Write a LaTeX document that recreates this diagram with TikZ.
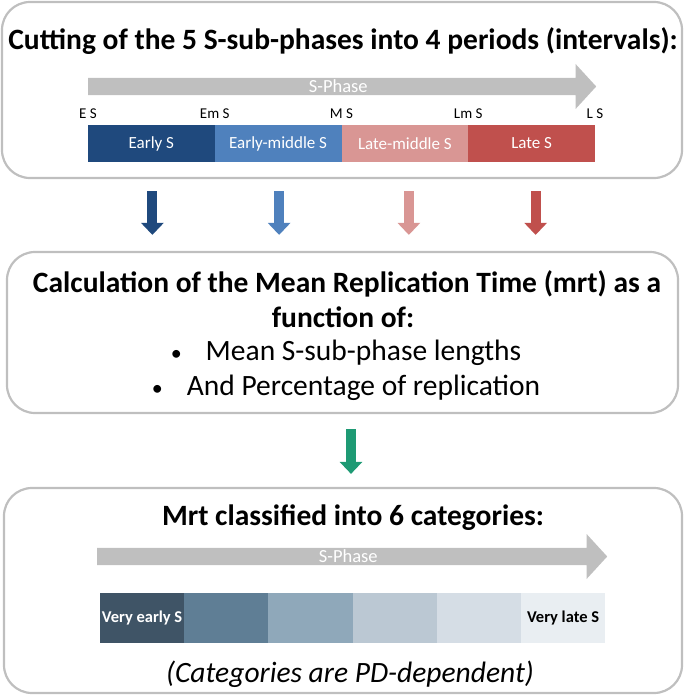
\documentclass[tikz,border=0pt]{standalone}
\usepackage{fontspec}
\setmainfont{Carlito}
\usetikzlibrary{arrows.meta,positioning,shapes.arrows}
\definecolor{panelgray}{HTML}{BFBFBF}
\definecolor{phasegray}{HTML}{BFBFBF}
\definecolor{earlyS}{HTML}{1F497D}
\definecolor{emidS}{HTML}{4F81BD}
\definecolor{lmidS}{HTML}{D99694}
\definecolor{lateS}{HTML}{C0504D}
\definecolor{mrtgreen}{HTML}{1E9A74}
\definecolor{catA}{HTML}{3F5466}
\definecolor{catB}{HTML}{5F7E95}
\definecolor{catC}{HTML}{8FA8BA}
\definecolor{catD}{HTML}{BBC8D3}
\definecolor{catE}{HTML}{D5DDE5}
\definecolor{catF}{HTML}{E9EEF2}
\tikzset{
    panel/.style={draw=panelgray,line width=2.2pt,rounded corners=28pt,inner sep=0pt},
    heading/.style={font=\bfseries\fontsize{29.5}{35}\selectfont,anchor=base,inner sep=0pt},
    bodytext/.style={font=\fontsize{29.5}{35}\selectfont,anchor=base,inner sep=0pt},
    phase/.style={single arrow,fill=phasegray,inner sep=0pt,single arrow head extend=11pt,
        single arrow tip angle=95,minimum width=45pt,anchor=tail,text=white,
        font=\fontsize{18.5}{22}\selectfont},
    tick/.style={font=\fontsize{15}{18}\selectfont,inner sep=0pt},
    seg/.style={minimum width=126.75pt,minimum height=37pt,inner sep=0pt,outer sep=0pt,
        text=white,font=\fontsize{17}{20}\selectfont},
    cat/.style={minimum width=84.2pt,minimum height=50pt,inner sep=0pt,outer sep=0pt,
        font=\bfseries\fontsize{16.5}{20}\selectfont},
    down/.style={line width=10pt,-{Triangle[width=22pt,length=12pt]}}
}
\newcommand{\smallbul}{{\fontsize{22}{22}\selectfont\textbullet}\hspace{24pt}}
\begin{document}
\begin{tikzpicture}[x=1pt,y=-1pt]
    \useasboundingbox (0,0) rectangle (685,698);
    % boxes
    \node[panel,minimum width=680pt,minimum height=176pt] (cutbox) at (342,90) {};
    \node[panel,minimum width=671pt,minimum height=161pt] (calcbox) at (342.5,332.5) {};
    \node[panel,minimum width=678pt,minimum height=205pt] (mrtbox) at (343,590.5) {};
    % first box
    \node[heading] (cuttitle) at (343,50) {Cutting of the 5 S-sub-phases into 4 periods (intervals):};
    \node[phase,minimum height=508pt] (phase1) at (88,86.5) {S-Phase};
    \node[seg,fill=earlyS,anchor=west] (early) at (88,143.5) {Early S};
    \node[seg,fill=emidS,right=0pt of early] (emid) {Early-middle S};
    \node[seg,fill=lmidS,right=0pt of emid] (lmid) {Late-middle S};
    \node[seg,fill=lateS,right=0pt of lmid] (late) {Late S};
    \node[tick,above=6pt of early.north west] (ES) {E S};
    \node[tick,above=6pt of early.north east] (EmS) {Em S};
    \node[tick,above=6pt of emid.north east] (MS) {M S};
    \node[tick,above=6pt of lmid.north east] (LmS) {Lm S};
    \node[tick,above=6pt of late.north east] (LS) {L S};
    % second box
    \node[heading] (calc1) at (347,292) {Calculation of the Mean Replication Time (mrt) as a};
    \node[heading] (calc2) at (343,327) {function of:};
    \node[bodytext] (bul1) at (346,360) {\smallbul Mean S-sub-phase lengths};
    \node[bodytext] (bul2) at (346,395) {\smallbul And Percentage of replication};
    % third box
    \node[heading] (mrttitle) at (353,525) {Mrt classified into 6 categories:};
    \node[phase,minimum height=510pt] (phase2) at (97,556.5) {S-Phase};
    \node[cat,fill=catA,text=white,anchor=west] (vearly) at (100,618) {Very early S};
    \node[cat,fill=catB,right=0pt of vearly] (cat2) {};
    \node[cat,fill=catC,right=0pt of cat2] (cat3) {};
    \node[cat,fill=catD,right=0pt of cat3] (cat4) {};
    \node[cat,fill=catE,right=0pt of cat4] (cat5) {};
    \node[cat,fill=catF,right=0pt of cat5] (vlate) {Very late S};
    \node[bodytext,font=\itshape\fontsize{29.5}{35}\selectfont] (pdnote) at (350,682) {(Categories are PD-dependent)};
    % arrows
    \foreach \s/\c/\dx in {early/earlyS/1,emid/emidS/1,lmid/lmidS/4,late/lateS/4}{
        \coordinate (\s-top) at ([yshift=-12pt,xshift=\dx pt]cutbox.south -| \s);
        \coordinate (\s-tip) at ([yshift=16pt,xshift=\dx pt]calcbox.north -| \s);
        \draw[down,draw=\c,fill=\c] (\s-top) -- (\s-tip);
    }
    \coordinate (calc-out) at ([yshift=-15pt]calcbox.south);
    \coordinate (mrt-in) at ([yshift=13pt,xshift=8pt]mrtbox.north);
    \draw[down,draw=mrtgreen,fill=mrtgreen] (calc-out -| mrt-in) -- (mrt-in);
\end{tikzpicture}
\end{document}
